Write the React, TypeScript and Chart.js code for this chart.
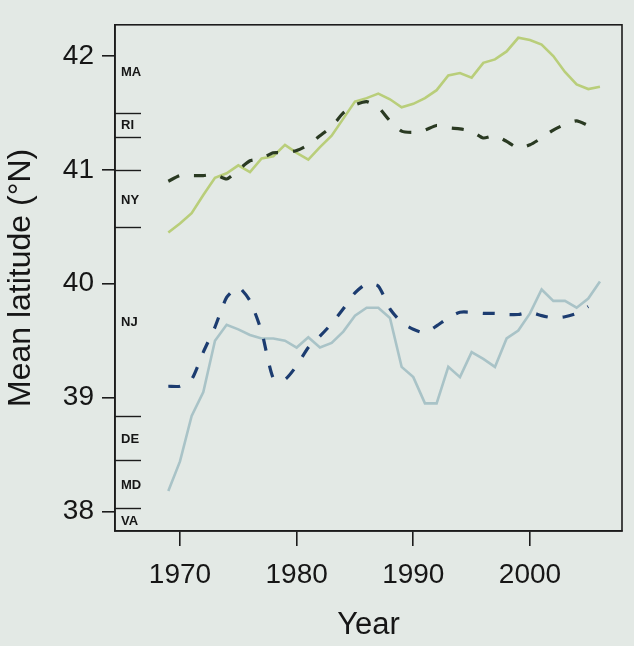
import React, { useEffect, useRef } from "react";
import { Chart, registerables } from "chart.js";

Chart.register(...registerables);

// Survey years
const yearsSolid = [
  1969, 1970, 1971, 1972, 1973, 1974, 1975, 1976, 1977, 1978, 1979, 1980, 1981,
  1982, 1983, 1984, 1985, 1986, 1987, 1988, 1989, 1990, 1991, 1992, 1993, 1994,
  1995, 1996, 1997, 1998, 1999, 2000, 2001, 2002, 2003, 2004, 2005, 2006,
];
const yearsDashed = [
  1969, 1970, 1971, 1972, 1973, 1974, 1975, 1976, 1977, 1978, 1979, 1980, 1981,
  1982, 1983, 1984, 1985, 1986, 1987, 1988, 1989, 1990, 1991, 1992, 1993, 1994,
  1995, 1996, 1997, 1998, 1999, 2000, 2001, 2002, 2003, 2004, 2005,
];

// Northern group: observed mean latitude (solid) and fitted trend (dashed)
const northObserved = [
  40.45, 40.53, 40.62, 40.78, 40.93, 40.97, 41.04, 40.98, 41.1, 41.12, 41.22,
  41.15, 41.09, 41.2, 41.3, 41.45, 41.6, 41.63, 41.67, 41.62, 41.55, 41.58,
  41.63, 41.7, 41.83, 41.85, 41.81, 41.94, 41.97, 42.04, 42.16, 42.14, 42.1,
  42.0, 41.86, 41.75, 41.71, 41.73,
];
const northFitted = [
  40.9, 40.95, 40.95, 40.95, 40.96, 40.92, 41.0, 41.08, 41.1, 41.15, 41.15,
  41.17, 41.22, 41.3, 41.38, 41.5, 41.57, 41.6, 41.55, 41.43, 41.34, 41.33,
  41.35, 41.39, 41.37, 41.36, 41.34, 41.28, 41.3, 41.25, 41.19, 41.22, 41.28,
  41.35, 41.4, 41.43, 41.39,
];

// Southern group: observed mean latitude (solid) and fitted trend (dashed)
const southObserved = [
  38.18, 38.44, 38.84, 39.05, 39.5, 39.64, 39.6, 39.55, 39.52, 39.52, 39.5,
  39.44, 39.53, 39.44, 39.48, 39.58, 39.72, 39.79, 39.79, 39.7, 39.27, 39.18,
  38.95, 38.95, 39.27, 39.18, 39.4, 39.34, 39.27, 39.52, 39.59, 39.74, 39.95,
  39.85, 39.85, 39.79, 39.87, 40.02,
];
const southFitted = [
  39.1, 39.1, 39.16, 39.4, 39.62, 39.88, 39.97, 39.85, 39.58, 39.17, 39.16,
  39.28, 39.44, 39.54, 39.65, 39.78, 39.92, 40.0, 39.98, 39.78, 39.66, 39.6,
  39.57, 39.63, 39.7, 39.75, 39.75, 39.74, 39.74, 39.73, 39.73, 39.75, 39.72,
  39.7, 39.71, 39.74, 39.8,
];

const yTicks = [38, 39, 40, 41, 42];
const xTicks = [1970, 1980, 1990, 2000];

// Coastal states along the latitude axis
const stateNames = ["MA", "RI", "NY", "NJ", "DE", "MD", "VA"];
const stateLabelLat = [41.86, 41.39, 40.73, 39.66, 38.63, 38.23, 37.91];
const stateBoundaryLat = [41.5, 41.29, 41.0, 40.5, 38.84, 38.45, 38.03];

const FONT = "'Liberation Sans', Arial, Helvetica, sans-serif";
const INK = "#161616";

const toPoints = (xs: number[], ys: number[]) =>
  xs.map((x, i) => ({ x, y: ys[i] }));

const frameBox = {
  id: "frameBox",
  afterDraw(chart: any) {
    const { ctx, chartArea } = chart;
    ctx.save();
    ctx.strokeStyle = "#1c1c1c";
    ctx.lineWidth = 1.6;
    ctx.strokeRect(
      chartArea.left,
      chartArea.top,
      chartArea.right - chartArea.left,
      chartArea.bottom - chartArea.top
    );
    ctx.restore();
  },
};

const stateBands = {
  id: "stateBands",
  afterDraw(chart: any) {
    const { ctx, chartArea, scales } = chart;
    const y = scales.y;
    const left = chartArea.left;
    ctx.save();
    ctx.strokeStyle = "#1c1c1c";
    ctx.lineWidth = 1.4;
    stateBoundaryLat.forEach((lat) => {
      const py = Math.round(y.getPixelForValue(lat)) + 0.5;
      ctx.beginPath();
      ctx.moveTo(left, py);
      ctx.lineTo(left + 26, py);
      ctx.stroke();
    });
    ctx.fillStyle = INK;
    ctx.font = `bold 13px ${FONT}`;
    ctx.textAlign = "left";
    ctx.textBaseline = "middle";
    stateNames.forEach((name, i) => {
      ctx.fillText(name, left + 6, y.getPixelForValue(stateLabelLat[i]));
    });
    ctx.restore();
  },
};

export default function App() {
  const canvasRef = useRef<HTMLCanvasElement | null>(null);

  useEffect(() => {
    if (!canvasRef.current) return;
    const chart = new Chart(canvasRef.current, {
      type: "line",
      data: {
        datasets: [
          {
            label: "North fitted",
            data: toPoints(yearsDashed, northFitted),
            borderColor: "#2a3a22",
            borderWidth: 3.2,
            borderDash: [12, 15],
            pointRadius: 0,
            tension: 0.2,
          },
          {
            label: "South fitted",
            data: toPoints(yearsDashed, southFitted),
            borderColor: "#1c3c70",
            borderWidth: 3.2,
            borderDash: [12, 15],
            pointRadius: 0,
            tension: 0.2,
          },
          {
            label: "North observed",
            data: toPoints(yearsSolid, northObserved),
            borderColor: "#b9ce7a",
            borderWidth: 2.6,
            pointRadius: 0,
            tension: 0,
          },
          {
            label: "South observed",
            data: toPoints(yearsSolid, southObserved),
            borderColor: "#a9c3c7",
            borderWidth: 2.6,
            pointRadius: 0,
            tension: 0,
          },
        ],
      },
      options: {
        animation: false,
        responsive: false,
        layout: { padding: { top: 11, right: 12, left: 0, bottom: 0 } },
        plugins: {
          legend: { display: false },
          tooltip: { enabled: false },
        },
        scales: {
          x: {
            type: "linear",
            min: 1964.43,
            max: 2007.89,
            afterBuildTicks: (s: any) => {
              s.ticks = xTicks.map((v) => ({ value: v }));
            },
            afterFit: (s: any) => {
              s.height = 115;
            },
            ticks: {
              color: INK,
              font: { family: FONT, size: 28 },
              padding: 12,
              maxRotation: 0,
              callback: (v: any) => String(v),
            },
            grid: {
              drawOnChartArea: false,
              drawTicks: true,
              tickLength: 15,
              color: "#1c1c1c",
              lineWidth: 1.6,
            },
            border: { display: true, color: "#1c1c1c", width: 1.6 },
            title: {
              display: true,
              text: "Year",
              color: INK,
              font: { family: FONT, size: 31 },
              padding: { top: 0, bottom: 2 },
            },
          },
          y: {
            type: "linear",
            min: 37.829,
            max: 42.274,
            afterBuildTicks: (s: any) => {
              s.ticks = yTicks.map((v) => ({ value: v }));
            },
            afterFit: (s: any) => {
              s.width = 115;
            },
            ticks: {
              color: INK,
              font: { family: FONT, size: 28 },
              padding: 8,
              callback: (v: any) => String(v),
            },
            grid: {
              drawOnChartArea: false,
              drawTicks: true,
              tickLength: 13,
              color: "#1c1c1c",
              lineWidth: 1.6,
            },
            border: { display: true, color: "#1c1c1c", width: 1.6 },
            title: {
              display: true,
              text: "Mean latitude (°N)",
              color: INK,
              font: { family: FONT, size: 32 },
              padding: { top: 2, bottom: 0 },
            },
          },
        },
      },
      plugins: [frameBox, stateBands],
    });
    return () => chart.destroy();
  }, []);

  return (
    <div
      style={{
        position: "fixed",
        left: 0,
        top: 0,
        width: 634,
        height: 646,
        background: "#e3e9e5",
      }}
    >
      <canvas
        ref={canvasRef}
        width={634}
        height={646}
        style={{ display: "block", width: 634, height: 646 }}
      />
    </div>
  );
}
